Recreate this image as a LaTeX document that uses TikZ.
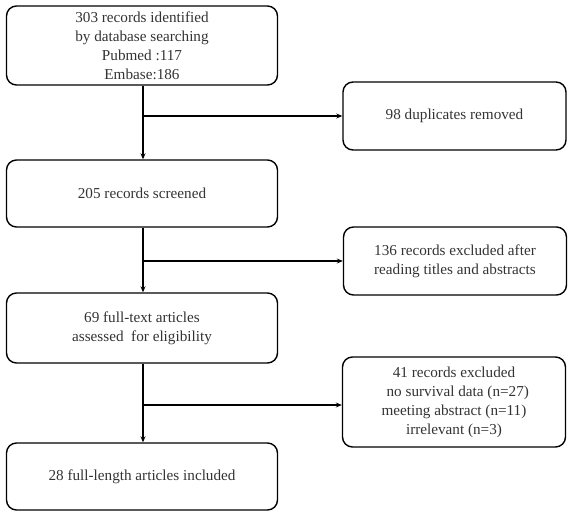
\documentclass[tikz,border=0pt]{standalone}
\usepackage{fontspec}
\setmainfont{Liberation Serif}
\usepackage{tikz}
\usetikzlibrary{arrows.meta, positioning, calc}

\begin{document}
\begin{tikzpicture}[
    x=1pt, y=-1pt,
    font=\fontsize{15.2}{19}\selectfont,
    box/.style={draw, line width=1.4pt, rounded corners=10pt, align=center, text=black!80},
    mainbox/.style={box, minimum width=271pt},
    sidebox/.style={box, minimum width=223pt, minimum height=68pt},
    arrow/.style={-{Stealth[length=6pt, width=5pt]}, line width=1.3pt}
]
\useasboundingbox (0,0) rectangle (576,516);

% Main column
\node[mainbox, minimum height=79pt] (ident) at (142, 45.5) {303 records identified\\by database searching\\Pubmed :117\\Embase:186};
\node[mainbox, minimum height=67pt] (screen) at (142, 193.5) {205 records screened};
\node[mainbox, minimum height=70pt] (full) at (142, 328) {69 full-text articles\\assessed\ \ for eligibility};
\node[mainbox, minimum height=67pt] (incl) at (142, 476.5) {28 full-length articles included};

% Exclusion column
\node[sidebox] (dup) at (454.5, 116) {98 duplicates removed};
\node[sidebox] (excl) at (455, 261) {136 records excluded after\\reading titles and abstracts};
\node[sidebox, minimum height=90pt] (elig) at (454, 402) {41 records excluded\\\ \ no survival data (n=27)\\meeting abstract (n=11)\\irrelevant (n=3)};

% Branch points
\coordinate (b1) at (143, 116);
\coordinate (b2) at (143, 261);
\coordinate (b3) at (143, 405);

% Arrows
\draw[arrow] (ident.south -| b1) -- (screen.north -| b1);
\draw[arrow] (screen.south -| b2) -- (full.north -| b2);
\draw[arrow] (full.south -| b3) -- (incl.north -| b3);

\draw[arrow] (b1) -- (b1 -| dup.west);
\draw[arrow] (b2) -- (b2 -| excl.west);
\draw[arrow] (b3) -- (b3 -| elig.west);
\end{tikzpicture}
\end{document}
